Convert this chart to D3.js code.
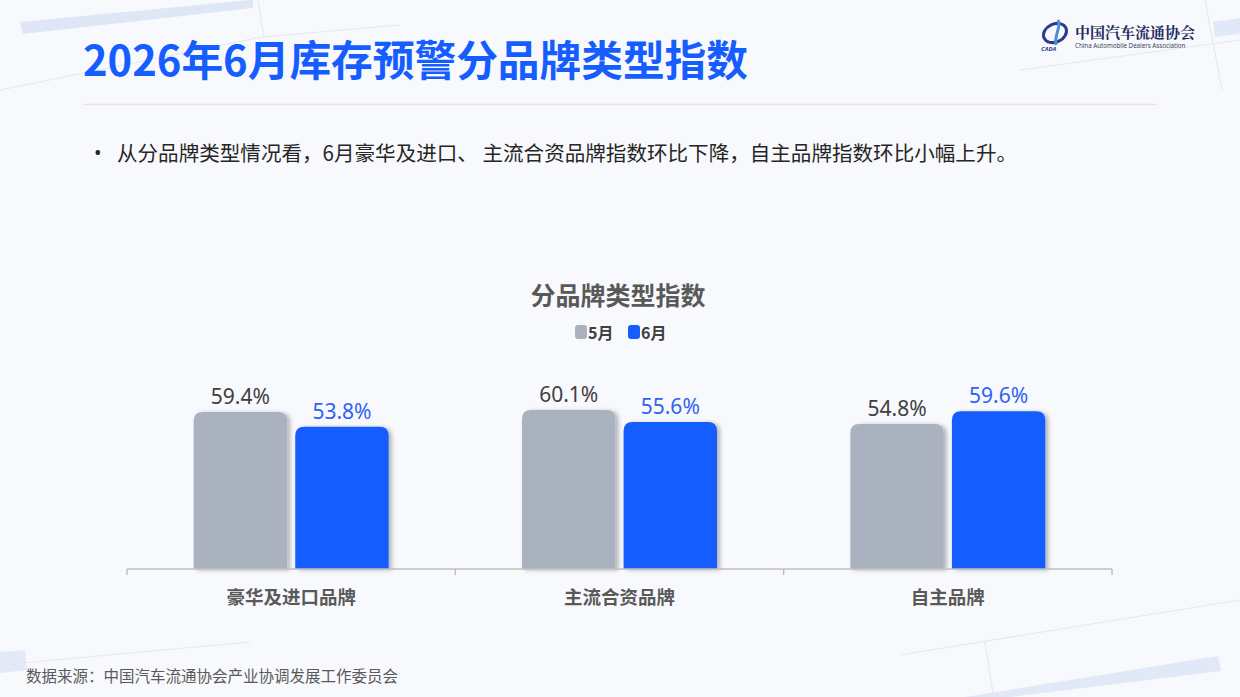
<!DOCTYPE html>
<html><head><meta charset="utf-8">
<script src="https://cdn.jsdelivr.net/npm/d3@7/dist/d3.min.js"></script>
<style>
html,body{margin:0;padding:0;background:#f7f8fb;}
svg{display:block;}
</style></head>
<body>
<svg id="c" width="1240" height="697"></svg>
<script>
const categories = ["豪华及进口品牌", "主流合资品牌", "自主品牌"];
const seriesNames = ["5月", "6月"];
const may = [59.4, 60.1, 54.8];
const june = [53.8, 55.6, 59.6];
const seriesValues = [may, june];
const colors = ["#a9b2be", "#165dff"];
const labelColors = ["#404040", "#2f62f5"];

const svg = d3.select("#c");
const W = 1240, H = 697;
const cjk = "'Noto Sans CJK SC','Noto Sans',sans-serif";
const num = "'Noto Sans','Open Sans','Noto Sans CJK SC',sans-serif";

const defs = svg.append("defs");
const f = defs.append("filter").attr("id","sh").attr("x","-20%").attr("y","-20%").attr("width","150%").attr("height","150%");
f.append("feDropShadow").attr("dx",3).attr("dy",1).attr("stdDeviation",2).attr("flood-color","#000").attr("flood-opacity",0.28);

// background
svg.append("rect").attr("width",W).attr("height",H).attr("fill","#f8f9fc");
const deco = svg.append("g");
deco.append("path").attr("d","M20,22 L250,0 L253,0 L253,8 L23,34 Z").attr("fill","#dfe6f6");
deco.append("path").attr("d","M1213,22 L1240,18 L1240,34 L1215,37 Z").attr("fill","#e1e8f7");
deco.append("path").attr("d","M965,697 L1218,656 L1221,671 L1010,697 Z").attr("fill","#e1e8f7");
deco.append("path").attr("d","M0,652 L25,650 L27,670 L0,673 Z").attr("fill","#e2e9f7");
const ln = (x1,y1,x2,y2)=>deco.append("line").attr("x1",x1).attr("y1",y1).attr("x2",x2).attr("y2",y2).attr("stroke","#e6e8ef").attr("stroke-width",1.2);
ln(0,90,262,37); ln(262,37,400,25); ln(258,0,264,37);
ln(1205,0,1222,90); ln(1020,70,1240,40);
ln(0,665,250,642); ln(900,655,1240,600); ln(985,642,993,693);

// title
svg.append("text").attr("x",83).attr("y",76).attr("font-family",cjk).attr("font-weight",700)
  .attr("font-size",42).attr("fill","#165dff").attr("textLength",665).attr("lengthAdjust","spacingAndGlyphs").text("2026年6月库存预警分品牌类型指数");
svg.append("line").attr("x1",83).attr("x2",1157).attr("y1",104.5).attr("y2",104.5).attr("stroke","#e3e4e8").attr("stroke-width",1.5);

// logo
const lg = svg.append("g");
lg.append("ellipse").attr("cx",1055).attr("cy",33).attr("rx",12).attr("ry",9).attr("fill","none").attr("stroke","#2a3a8c").attr("stroke-width",3).attr("transform","rotate(-25 1055 33)");
lg.append("path").attr("d","M1058,20 C1062,26 1054,34 1056,45").attr("stroke","#4a90d9").attr("stroke-width",3).attr("fill","none");
lg.append("text").attr("x",1041).attr("y",51).attr("font-family",num).attr("font-size",6).attr("font-style","italic").attr("font-weight",700).attr("fill","#2a3a8c").text("CADA");
lg.append("text").attr("x",1075).attr("y",38).attr("font-family","'Noto Serif CJK SC','Noto Sans CJK SC',serif").attr("font-weight",700).attr("font-size",15).attr("fill","#1f2a5c").text("中国汽车流通协会");
lg.append("text").attr("x",1075).attr("y",48).attr("font-family",num).attr("font-size",6.2).attr("fill","#3a4160").text("China Automobile Dealers Association");

// bullet text
svg.append("text").attr("x",94).attr("y",160).attr("font-family",num).attr("font-size",20).attr("fill","#262626").text("•");
svg.append("text").attr("x",117).attr("y",161).attr("font-family",cjk).attr("font-size",20.8).attr("fill","#262626")
  .attr("textLength",900).attr("lengthAdjust","spacingAndGlyphs")
  .text("从分品牌类型情况看，6月豪华及进口、 主流合资品牌指数环比下降，自主品牌指数环比小幅上升。");

// chart title + legend
svg.append("text").attr("x",618).attr("y",305).attr("text-anchor","middle").attr("font-family",cjk).attr("font-weight",700).attr("font-size",25).attr("fill","#595959").text("分品牌类型指数");
const legX = [575, 628];
seriesNames.forEach((s,i)=>{
  svg.append("rect").attr("x",legX[i]).attr("y",325).attr("width",12).attr("height",14).attr("rx",3).attr("fill",colors[i]);
  svg.append("text").attr("x",legX[i]+13).attr("y",338.5).attr("font-family",cjk).attr("font-weight",700).attr("font-size",16).attr("fill","#404040").text(s);
});

// scales
const base = 569;
const x0 = d3.scaleBand().domain(categories).range([127,1112]).padding(0);
const groupW = 195;
const x1 = d3.scaleBand().domain(seriesNames).range([0,groupW]).paddingInner(0.08);
const y = d3.scaleLinear().domain([0,100]).range([base, base-264.5]);

const g = svg.append("g");
function topRounded(x,yT,w,h,r){
  return `M${x},${yT+h} L${x},${yT+r} Q${x},${yT} ${x+r},${yT} L${x+w-r},${yT} Q${x+w},${yT} ${x+w},${yT+r} L${x+w},${yT+h} Z`;
}
categories.forEach((c,ci)=>{
  const off = x0(c) + (x0.bandwidth()-groupW)/2;
  seriesNames.forEach((s,si)=>{
    const v = seriesValues[si][ci];
    const bx = off + x1(s), bw = x1.bandwidth(), yt = y(v);
    g.append("path").attr("d",topRounded(bx,yt,bw,base-yt,9)).attr("fill",colors[si]).attr("filter","url(#sh)");
    g.append("text").attr("x",bx+bw/2).attr("y",yt-8).attr("text-anchor","middle").attr("font-family",num)
      .attr("font-size",21).attr("fill",labelColors[si]).text(v.toFixed(1)+"%");
  });
});

// axis
const ax = svg.append("g").attr("transform",`translate(0,${base})`);
ax.append("line").attr("x1",127).attr("x2",1112).attr("stroke","#bfbfbf").attr("stroke-width",1.5);
const ticks = categories.map(c=>x0(c)).concat([x0.range()[1]]);
ax.selectAll(".tk").data(ticks).join("line").attr("x1",d=>d).attr("x2",d=>d).attr("y1",0).attr("y2",6).attr("stroke","#bfbfbf").attr("stroke-width",1.5);
ax.selectAll(".lb").data(categories).join("text").attr("x",d=>x0(d)+x0.bandwidth()/2).attr("y",35)
  .attr("text-anchor","middle").attr("font-family",cjk).attr("font-weight",700).attr("font-size",18.5).attr("fill","#595959").text(d=>d);

// footer
svg.append("text").attr("x",26).attr("y",682).attr("font-family",cjk).attr("font-size",15.5).attr("fill","#595959").text("数据来源：中国汽车流通协会产业协调发展工作委员会");
</script>
</body></html>
